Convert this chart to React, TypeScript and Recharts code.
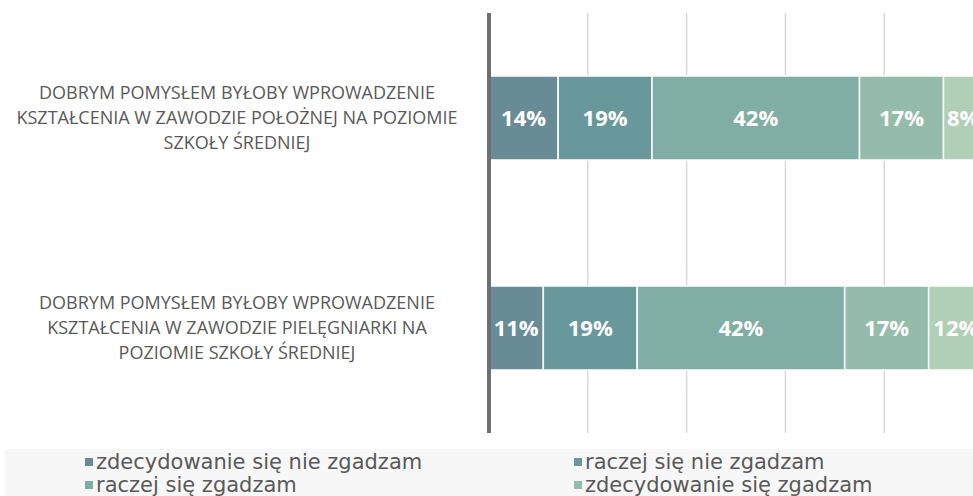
import { BarChart, Bar, XAxis, YAxis, CartesianGrid, LabelList } from 'recharts'

const CATEGORIES = [
  'DOBRYM POMYSŁEM BYŁOBY WPROWADZENIE\nKSZTAŁCENIA W ZAWODZIE POŁOŻNEJ NA POZIOMIE\nSZKOŁY ŚREDNIEJ',
  'DOBRYM POMYSŁEM BYŁOBY WPROWADZENIE\nKSZTAŁCENIA W ZAWODZIE PIELĘGNIARKI NA\nPOZIOMIE SZKOŁY ŚREDNIEJ',
]

const SERIES_NAMES = [
  'zdecydowanie się nie zgadzam',
  'raczej się nie zgadzam',
  'raczej się zgadzam',
  'zdecydowanie się zgadzam',
  'trudno powiedzieć',
]

const STRONGLY_DISAGREE = [14, 11]
const RATHER_DISAGREE = [19, 19]
const RATHER_AGREE = [42, 42]
const STRONGLY_AGREE = [17, 17]
const HARD_TO_SAY = [8, 12]

const X_TICKS = [0, 20, 40, 60, 80, 100]

const COLORS = ['#688c96', '#69989c', '#80aea4', '#95bcaa', '#b0cfb4']

// series shown in the legend (the last one has no legend entry)
const LEGEND_COUNT = 4

const VALUES = [STRONGLY_DISAGREE, RATHER_DISAGREE, RATHER_AGREE, STRONGLY_AGREE, HARD_TO_SAY]

const data = CATEGORIES.map((name, i) => {
  const row: Record<string, string | number> = { name }
  VALUES.forEach((vals, s) => {
    row[`s${s}`] = vals[i]
  })
  return row
})

function CategoryTick({ y, payload }: any) {
  const lines: string[] = String(payload.value).split('\n')
  const lineH = 25
  const startY = y - ((lines.length - 1) * lineH) / 2 + 6
  return (
    <g>
      {lines.map((line, i) => (
        <text
          key={i}
          x={237}
          y={startY + i * lineH}
          textAnchor="middle"
          fill="#595959"
          fontSize={18}
          fontFamily="'Open Sans', sans-serif"
        >
          {line}
        </text>
      ))}
    </g>
  )
}

function Legend4() {
  return (
    <div
      style={{
        position: 'absolute',
        left: 5,
        top: 449,
        width: 968,
        height: 47,
        background: '#f7f7f7',
        display: 'grid',
        gridTemplateColumns: '489px 398px',
        paddingLeft: 80,
        paddingTop: 1,
        boxSizing: 'border-box',
        fontFamily: "'DejaVu Sans', sans-serif",
        fontSize: 21,
        lineHeight: '22px',
        color: '#595959',
      }}
    >
      {SERIES_NAMES.slice(0, LEGEND_COUNT).map((name, i) => (
        <div key={name} style={{ display: 'flex', alignItems: 'center', whiteSpace: 'nowrap' }}>
          <span
            style={{ width: 8, height: 8, background: COLORS[i], marginRight: 3, flexShrink: 0 }}
          />
          <span>{name}</span>
        </div>
      ))}
    </div>
  )
}

export default function App() {
  return (
    <div
      style={{
        position: 'fixed',
        left: 0,
        top: 0,
        width: 973,
        height: 496,
        overflow: 'hidden',
        background: '#fff',
      }}
    >
      <BarChart
        width={1000}
        height={446}
        data={data}
        layout="vertical"
        margin={{ top: 13, right: 17, left: 0, bottom: 13 }}
      >
        <CartesianGrid horizontal={false} stroke="#d9d9d9" strokeWidth={1.5} />
        <XAxis type="number" domain={[0, 100]} ticks={X_TICKS} allowDataOverflow hide />
        <YAxis
          type="category"
          dataKey="name"
          width={489}
          axisLine={{ stroke: '#6e6e6e', strokeWidth: 4 }}
          tickLine={false}
          tick={<CategoryTick />}
          interval={0}
        />
        {SERIES_NAMES.map((name, s) => (
          <Bar
            key={name}
            dataKey={`s${s}`}
            name={name}
            stackId="a"
            fill={COLORS[s]}
            stroke="#ffffff"
            strokeWidth={1.5}
            barSize={84}
            isAnimationActive={false}
          >
            <LabelList
              dataKey={`s${s}`}
              position="center"
              formatter={(v: any) => `${v}%`}
              fill="#ffffff"
              fontSize={22}
              fontWeight="bold"
              fontFamily="'Open Sans', sans-serif"
            />
          </Bar>
        ))}
      </BarChart>
      <Legend4 />
    </div>
  )
}
